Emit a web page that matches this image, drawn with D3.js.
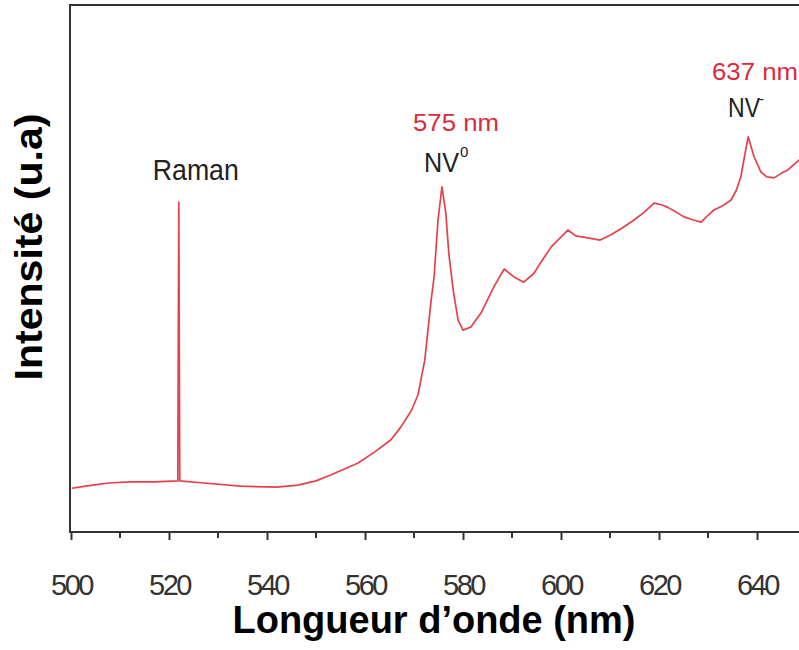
<!DOCTYPE html>
<html>
<head>
<meta charset="utf-8">
<script src="https://cdn.jsdelivr.net/npm/d3@7"></script>
<style>
  html, body { margin: 0; padding: 0; background: #fff; }
  svg { display: block; }
</style>
</head>
<body>
<svg id="chart" width="799" height="650"></svg>
<script>
// Photoluminescence spectrum: wavelength (nm) and intensity (arbitrary units)
const wavelength = [
  500.2, 503, 507.6, 512, 517, 521.8, 522.0, 522.2, 527, 534.7, 542, 546.3, 550, 553,
  558.6, 562, 565.3, 567.3, 569.5, 570.8, 572.2, 573.5, 574.1, 574.9, 575.7, 576.5,
  577.1, 578.0, 579.0, 580.0, 581.6, 583.7, 586.3, 588.4, 590.4, 592.4, 594.5, 595.9,
  598, 601.4, 603, 605.5, 608, 610.2, 612.5, 614.9, 617, 619.0, 620.5, 621.8, 623.5,
  625.1, 627, 628.6, 630, 631.2, 633, 634.7, 635.8, 636.7, 637.5, 638.2, 639.4, 640.8,
  642, 643.5, 645, 646.3, 648.6, 650
];
const intensity = [
  8.3, 8.7, 9.3, 9.5, 9.5, 9.7, 62.6, 9.7, 9.3, 8.7, 8.5, 8.9, 9.7, 10.8,
  13.1, 15.2, 17.5, 19.9, 23.1, 26.0, 32.6, 44.0, 48.4, 59.2, 65.5, 60.5,
  52.9, 45.9, 40.2, 38.3, 38.9, 41.6, 46.5, 49.9, 48.4, 47.4, 49.1, 51.2,
  54.1, 57.3, 56.2, 55.8, 55.4, 56.4, 57.7, 59.2, 60.7, 62.4, 62.1, 61.6, 60.7,
  59.8, 59.2, 58.8, 60.1, 61.1, 61.9, 63.0, 64.9, 67.4, 71.5, 75.0, 71.2, 68.3,
  67.4, 67.2, 68.1, 68.7, 70.6, 71.2
];

// Axis ticks
const majorTicks = [500, 520, 540, 560, 580, 600, 620, 640];
const minorTicks = [510, 530, 550, 570, 590, 610, 630, 650];

// Annotations: peak labels and the Raman line position
const peakLabels = ["575 nm", "637 nm"];
const centreLabels = ["NV", "NV"];
const chargeLabels = ["0", "-"];
const ramanLine = 522;

const svg = d3.select("#chart");
const plotLeft = 71, plotRight = 806, plotTop = 5, plotBottom = 532;

const x = d3.scaleLinear().domain([500, 650]).range([plotLeft, plotRight]);
const y = d3.scaleLinear().domain([0, 100]).range([plotBottom, plotTop]);

const pts = wavelength.map((w, i) => [w, intensity[i]]);

// Spectrum
svg.append("path")
  .datum(pts)
  .attr("fill", "none")
  .attr("stroke", "#e6404a")
  .attr("stroke-width", 1.7)
  .attr("stroke-linejoin", "round")
  .attr("d", d3.line().x(d => x(d[0])).y(d => y(d[1])));

// Frame
svg.append("rect")
  .attr("x", plotLeft - 1).attr("y", plotTop)
  .attr("width", 900).attr("height", plotBottom - plotTop)
  .attr("fill", "none")
  .attr("stroke", "#333")
  .attr("stroke-width", 2);

const font = "Liberation Sans, Arial, sans-serif";

// Bottom axis: major ticks with labels, minor ticks without
const gx = svg.append("g").attr("transform", `translate(0,${plotBottom})`);
gx.call(d3.axisBottom(x).tickValues(majorTicks).tickSize(8).tickSizeOuter(0).tickFormat(d3.format("d")))
  .call(g => g.select(".domain").remove())
  .call(g => g.selectAll(".tick line").attr("stroke", "#333").attr("stroke-width", 2))
  .call(g => g.selectAll(".tick text")
      .attr("y", 63)
      .attr("dy", 0)
      .attr("font-family", font)
      .attr("font-size", 29)
      .attr("letter-spacing", -2.5)
      .attr("fill", "#333"));
gx.selectAll("line.minor")
  .data(minorTicks)
  .join("line")
  .attr("class", "minor")
  .attr("x1", d => x(d)).attr("x2", d => x(d))
  .attr("y1", 0).attr("y2", 6)
  .attr("stroke", "#333").attr("stroke-width", 2);

// Axis titles
svg.append("text")
  .attr("x", 434).attr("y", 633)
  .attr("text-anchor", "middle")
  .attr("font-family", font)
  .attr("font-weight", "bold")
  .attr("font-size", 38)
  .attr("textLength", 403)
  .attr("lengthAdjust", "spacingAndGlyphs")
  .attr("fill", "#000")
  .text("Longueur d\u2019onde (nm)");

svg.append("text")
  .attr("transform", "translate(42,247) rotate(-90)")
  .attr("text-anchor", "middle")
  .attr("font-family", font)
  .attr("font-weight", "bold")
  .attr("font-size", 38)
  .attr("textLength", 267)
  .attr("lengthAdjust", "spacingAndGlyphs")
  .attr("fill", "#000")
  .text("Intensité (u.a)");

// Raman label
svg.append("text")
  .attr("x", x(ramanLine) + 17).attr("y", 180)
  .attr("text-anchor", "middle")
  .attr("font-family", font)
  .attr("font-size", 29)
  .attr("textLength", 86)
  .attr("lengthAdjust", "spacingAndGlyphs")
  .attr("fill", "#222")
  .text("Raman");

// Peak wavelength labels (red)
const redY = [131, 80];
const redX = [456, 755];
peakLabels.forEach((t, i) => {
  svg.append("text")
    .attr("x", redX[i]).attr("y", redY[i])
    .attr("text-anchor", "middle")
    .attr("font-family", font)
    .attr("font-size", 24)
    .attr("textLength", 86)
    .attr("lengthAdjust", "spacingAndGlyphs")
    .attr("fill", "#dc2a3c")
    .text(t);
});

// Colour-centre labels NV⁰ and NV⁻
const nvX = [424, 728], nvY = [172, 117], nvW = [35, 32];
const supX = [460, 759], supY = [157, 104];
centreLabels.forEach((t, i) => {
  svg.append("text")
    .attr("x", nvX[i]).attr("y", nvY[i])
    .attr("font-family", font)
    .attr("font-size", 28)
    .attr("textLength", nvW[i])
    .attr("lengthAdjust", "spacingAndGlyphs")
    .attr("fill", "#222")
    .text(t);
  svg.append("text")
    .attr("x", supX[i]).attr("y", supY[i])
    .attr("font-family", font)
    .attr("font-size", 15)
    .attr("fill", "#222")
    .text(chargeLabels[i]);
});
</script>
</body>
</html>
